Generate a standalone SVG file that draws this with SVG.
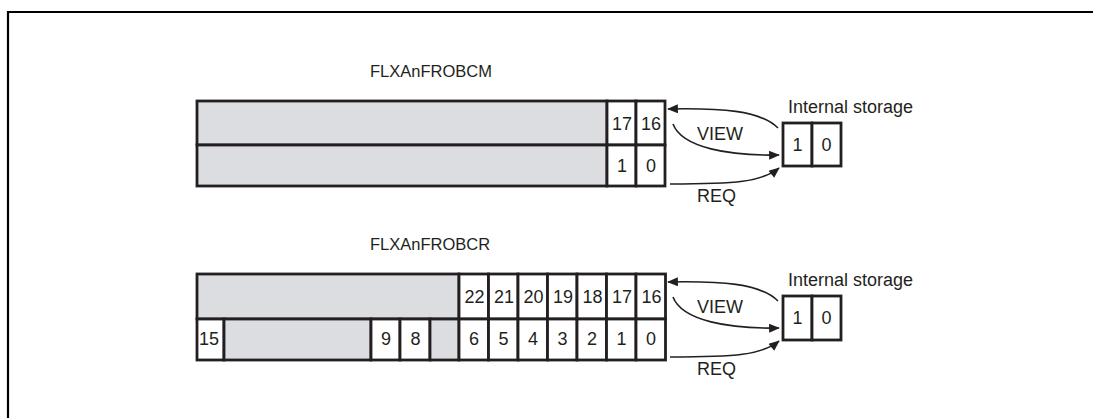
<svg xmlns="http://www.w3.org/2000/svg" width="1093" height="418" viewBox="0 0 1093 418">
<style>
text{font-family:"Liberation Sans",Arial,sans-serif;font-size:18px;fill:#231f20}
.t{font-size:16.5px}
.c{text-anchor:middle}
.g{fill:#dcdde0;stroke:#231f20;stroke-width:2.8}
.w{fill:#fff;stroke:#231f20;stroke-width:2.8}
.a{fill:none;stroke:#231f20;stroke-width:1.6;marker-end:url(#ah)}
</style>
<defs>
<marker id="ah" viewBox="0 0 12 10" refX="11" refY="5" markerWidth="12" markerHeight="9" markerUnits="userSpaceOnUse" orient="auto">
<path d="M0,0 L12,5 L0,10 z" fill="#231f20"/>
</marker>
</defs>
<rect width="1093" height="418" fill="#fff"/>
<path d="M8,418 V12 H1093" fill="none" stroke="#000" stroke-width="2.2"/>

<g id="frobcm">
<text class="t" x="370" y="77">FLXAnFROBCM</text>
<rect class="g" x="197" y="101" width="410" height="44"/>
<rect class="g" x="197" y="145" width="410" height="41"/>
<rect class="w" x="607" y="101" width="29" height="44"/>
<rect class="w" x="636" y="101" width="29" height="44"/>
<rect class="w" x="607" y="145" width="29" height="41"/>
<rect class="w" x="636" y="145" width="29" height="41"/>
<text class="c" x="622" y="130">17</text>
<text class="c" x="651" y="130">16</text>
<text class="c" x="622" y="172">1</text>
<text class="c" x="651" y="172">0</text>
</g>

<g id="storage1">
<text x="788" y="113">Internal storage</text>
<rect class="w" x="783" y="123" width="29" height="43"/>
<rect class="w" x="812" y="123" width="29" height="43"/>
<text class="c" x="797.5" y="151">1</text>
<text class="c" x="826.5" y="151">0</text>
</g>

<g id="frobcr">
<text class="t" x="370" y="250">FLXAnFROBCR</text>
<rect class="g" x="197" y="274" width="262" height="45"/>
<rect class="w" x="197" y="319" width="27" height="41"/>
<rect class="g" x="224" y="319" width="147" height="41"/>
<rect class="w" x="371" y="319" width="29" height="41"/>
<rect class="w" x="400" y="319" width="30" height="41"/>
<rect class="g" x="430" y="319" width="29" height="41"/>
<rect class="w" x="459" y="274" width="29.5" height="45"/>
<rect class="w" x="488.5" y="274" width="29.5" height="45"/>
<rect class="w" x="518" y="274" width="29.5" height="45"/>
<rect class="w" x="547.5" y="274" width="29.5" height="45"/>
<rect class="w" x="577" y="274" width="29.5" height="45"/>
<rect class="w" x="606.5" y="274" width="29.5" height="45"/>
<rect class="w" x="636" y="274" width="29.5" height="45"/>
<rect class="w" x="459" y="319" width="29.5" height="41"/>
<rect class="w" x="488.5" y="319" width="29.5" height="41"/>
<rect class="w" x="518" y="319" width="29.5" height="41"/>
<rect class="w" x="547.5" y="319" width="29.5" height="41"/>
<rect class="w" x="577" y="319" width="29.5" height="41"/>
<rect class="w" x="606.5" y="319" width="29.5" height="41"/>
<rect class="w" x="636" y="319" width="29.5" height="41"/>
<text class="c" x="474.5" y="303">22</text>
<text class="c" x="504" y="303">21</text>
<text class="c" x="533.5" y="303">20</text>
<text class="c" x="563" y="303">19</text>
<text class="c" x="592.5" y="303">18</text>
<text class="c" x="622" y="303">17</text>
<text class="c" x="651.5" y="303">16</text>
<text x="199" y="345">15</text>
<text class="c" x="386" y="345">9</text>
<text class="c" x="415.5" y="345">8</text>
<text class="c" x="474" y="345">6</text>
<text class="c" x="503.5" y="345">5</text>
<text class="c" x="533" y="345">4</text>
<text class="c" x="562.5" y="345">3</text>
<text class="c" x="592" y="345">2</text>
<text class="c" x="621.5" y="345">1</text>
<text class="c" x="651" y="345">0</text>
</g>

<g id="storage2">
<text x="788" y="286">Internal storage</text>
<rect class="w" x="783" y="296" width="29" height="44"/>
<rect class="w" x="812" y="296" width="29" height="44"/>
<text class="c" x="797.5" y="324">1</text>
<text class="c" x="826.5" y="324">0</text>
</g>

<g id="connectors">
<path class="a" d="M778,128 C760,110 720,108 668,109"/>
<path class="a" d="M673,124 C682,148 730,156 779,155"/>
<path class="a" d="M670,184 C735,184 762,182 779,168"/>
<path class="a" d="M778,301 C760,283 720,281 668,282"/>
<path class="a" d="M673,297 C682,321 730,329 779,328"/>
<path class="a" d="M670,357 C735,357 762,355 779,341"/>
<text x="697" y="140">VIEW</text>
<text x="697" y="202">REQ</text>
<text x="697" y="313">VIEW</text>
<text x="697" y="375">REQ</text>
</g>
</svg>
